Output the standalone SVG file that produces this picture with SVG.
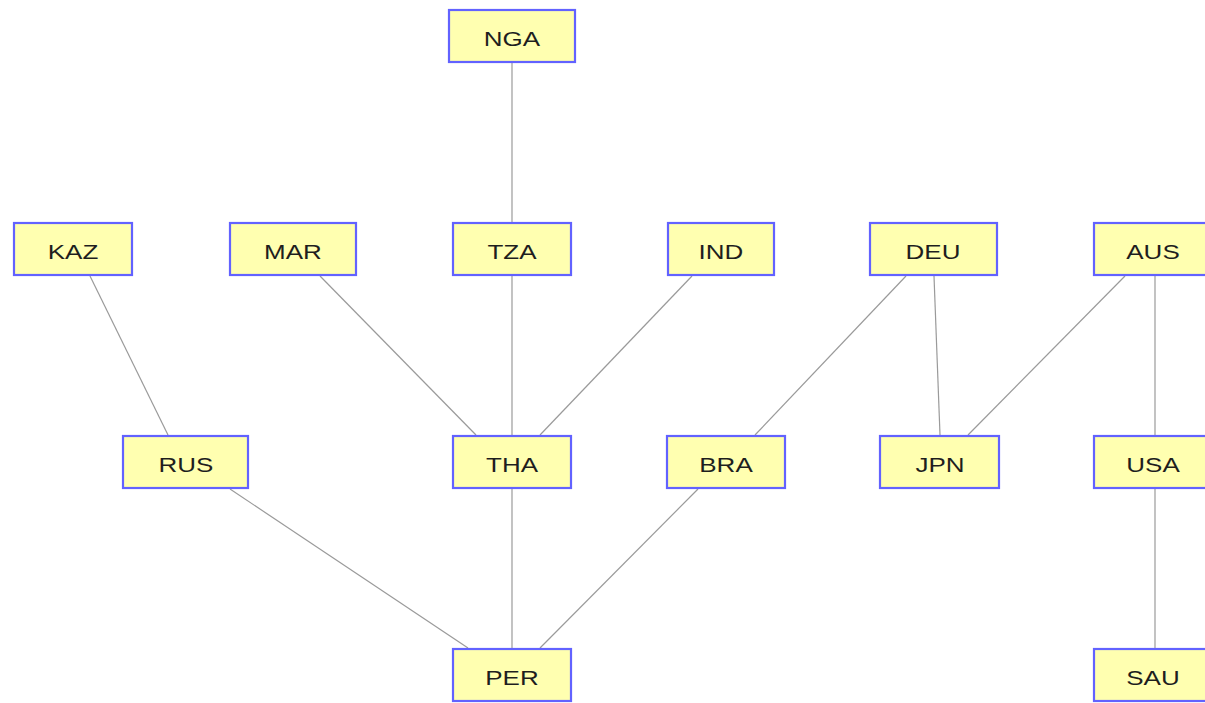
<svg xmlns="http://www.w3.org/2000/svg" width="1205" height="703" viewBox="0 0 1205 703">
  <style>
    .node rect { fill: #ffffb0; stroke: #6262ff; stroke-width: 2.2; }
    .node text { font-family: "Liberation Sans", Arial, sans-serif; font-size: 20px; fill: #1e1e1e; text-anchor: middle; }
    .edges line { stroke: #9a9a9a; stroke-width: 1.2; }
  </style>
  <rect width="1205" height="703" fill="#ffffff"/>

  <!-- connectors -->
  <g id="edges" class="edges">
    <line x1="512" y1="63" x2="512" y2="222"/>
    <line x1="90" y1="276" x2="168" y2="435"/>
    <line x1="320" y1="276" x2="476" y2="435"/>
    <line x1="512" y1="276" x2="512" y2="435"/>
    <line x1="692" y1="276" x2="540" y2="435"/>
    <line x1="906" y1="276" x2="755" y2="435"/>
    <line x1="934" y1="276" x2="940" y2="435"/>
    <line x1="1125" y1="276" x2="968" y2="435"/>
    <line x1="1155" y1="276" x2="1155" y2="435"/>
    <line x1="230" y1="489" x2="468" y2="648"/>
    <line x1="512" y1="489" x2="512" y2="648"/>
    <line x1="698" y1="489" x2="540" y2="648"/>
    <line x1="1155" y1="489" x2="1155" y2="648"/>
  </g>

  <!-- nodes: text is widened horizontally to the box proportions -->
  <g id="NGA" class="node"><rect x="449" y="10" width="126" height="52"/><text transform="translate(512,45.5) scale(1.3,1)">NGA</text></g>

  <g id="KAZ" class="node"><rect x="14" y="223" width="118" height="52"/><text transform="translate(73,258.5) scale(1.3,1)">KAZ</text></g>
  <g id="MAR" class="node"><rect x="230" y="223" width="126" height="52"/><text transform="translate(293,258.5) scale(1.3,1)">MAR</text></g>
  <g id="TZA" class="node"><rect x="453" y="223" width="118" height="52"/><text transform="translate(512,258.5) scale(1.3,1)">TZA</text></g>
  <g id="IND" class="node"><rect x="668" y="223" width="106" height="52"/><text transform="translate(721,258.5) scale(1.3,1)">IND</text></g>
  <g id="DEU" class="node"><rect x="870" y="223" width="127" height="52"/><text transform="translate(933,258.5) scale(1.3,1)">DEU</text></g>
  <g id="AUS" class="node"><rect x="1094" y="223" width="118" height="52"/><text transform="translate(1153,258.5) scale(1.3,1)">AUS</text></g>

  <g id="RUS" class="node"><rect x="123" y="436" width="125" height="52"/><text transform="translate(186,471.5) scale(1.3,1)">RUS</text></g>
  <g id="THA" class="node"><rect x="453" y="436" width="118" height="52"/><text transform="translate(512,471.5) scale(1.3,1)">THA</text></g>
  <g id="BRA" class="node"><rect x="667" y="436" width="118" height="52"/><text transform="translate(726,471.5) scale(1.3,1)">BRA</text></g>
  <g id="JPN" class="node"><rect x="880" y="436" width="119" height="52"/><text transform="translate(940,471.5) scale(1.3,1)">JPN</text></g>
  <g id="USA" class="node"><rect x="1094" y="436" width="118" height="52"/><text transform="translate(1153,471.5) scale(1.3,1)">USA</text></g>

  <g id="PER" class="node"><rect x="453" y="649" width="118" height="52"/><text transform="translate(512,684.5) scale(1.3,1)">PER</text></g>
  <g id="SAU" class="node"><rect x="1094" y="649" width="118" height="52"/><text transform="translate(1153,684.5) scale(1.3,1)">SAU</text></g>
</svg>
